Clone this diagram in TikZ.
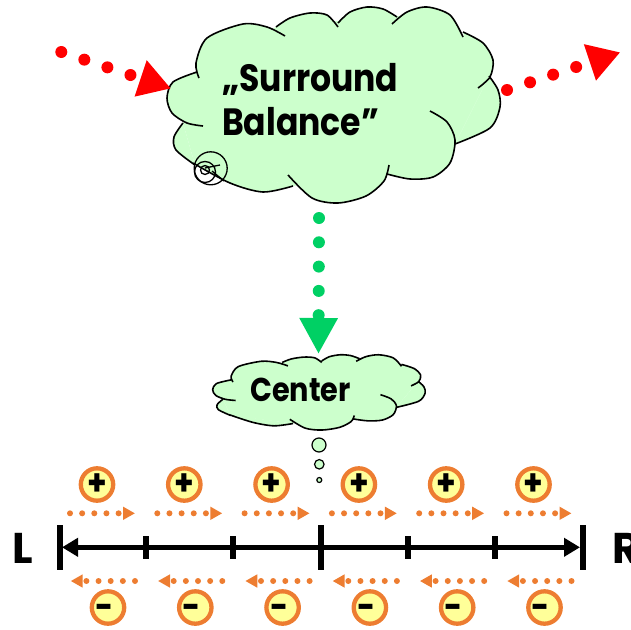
\documentclass[tikz,border=0pt]{standalone}
\usepackage{fontspec}
\setmainfont[FakeStretch=0.87]{Poppins}
\newfontfamily\axisfont{Poppins}
\usetikzlibrary{arrows.meta}
\definecolor{CloudGreen}{RGB}{204, 255, 204}
\definecolor{SignYellow}{RGB}{255, 255, 153}
\definecolor{SignOrange}{RGB}{237, 125, 49}
\definecolor{DropGreen}{RGB}{0, 208, 100}
\tikzset{
  cloudline/.style={draw=black, fill=CloudGreen, line width=1.6pt},
  reddots/.style={red, line width=12pt, line cap=round, dash pattern=on 0pt off 24.3pt,
    -{Triangle[length=32pt, width=36pt]}},
  greendots/.style={DropGreen, line width=12pt, line cap=round, dash pattern=on 0pt off 24.3pt,
    -{Triangle[length=36pt, width=36pt]}},
  orangedots/.style={SignOrange, line width=6pt, line cap=round, dash pattern=on 0pt off 12.15pt,
    -{Triangle[length=12pt, width=12.5pt]}},
  signdisc/.style={circle, draw=SignOrange, fill=SignYellow, line width=4.3pt, minimum size=32.4pt,
    outer sep=0pt, inner sep=0pt, text=black, font=\bfseries\fontsize{36}{36}\selectfont},
  longtick/.style={line width=6pt},
  shorttick/.style={line width=6pt},
  cloudshape/.pic={
    \fill[CloudGreen] (33,65) -- (110,22) -- (172,16) -- (200,8) -- (226,12) -- (240,10) -- (297,30) -- (323,71)
      -- (289,139) -- (222,165) -- (127,181) -- (29,160) -- (17,118) -- cycle;
    \path[cloudline]
      plot[smooth] coordinates {(33,73) (30,58) (41,33) (77,19) (101,22) (119,31)}
      plot[smooth] coordinates {(110,22) (124,13) (144,8) (161,10) (172,22)}
      plot[smooth] coordinates {(172,18) (184,7) (201,2) (217,4) (231,12)}
      plot[smooth] coordinates {(226,19) (241,7) (261,2) (284,10) (297,32)}
      plot[smooth] coordinates {(297,27) (317,38) (327,55) (324,72) (312,83)}
      plot[smooth] coordinates {(323,71) (332,85) (334,102) (324,123) (289,139)}
      plot[smooth] coordinates {(264,106) (281,117) (289,135) (284,158) (267,172) (244,174) (221,169)}
      plot[smooth] coordinates {(223,160) (218,176) (200,191) (172,198) (146,193) (122,170)}
      plot[smooth] coordinates {(127,181) (97,187) (64,178) (27,158)}
      plot[smooth] coordinates {(29,160) (10,145) (8,132) (17,118)}
      plot[smooth] coordinates {(37,121) (21,118) (6,108) (1,93) (7,77) (31,67)};
  }
}

\begin{document}
\begin{tikzpicture}[x=1pt, y=-1pt]
\useasboundingbox (0,0) rectangle (631,629);

% Clouds
\pic at (166,5) {cloudshape};
\pic[xscale=0.638, yscale=0.384] at (212,354) {cloudshape};

% Scribble on the big cloud
\draw[line width=1.3pt] (210.7,168.3) circle (16.5);
\draw[line width=1.3pt] (205,172) circle (10.5);
\draw[line width=1.3pt] (205,170) circle (4.5);
\draw[line width=1.3pt] (205,168) -- (220,165);
\draw[line width=1.3pt] (212,171) -- (224,181);

% Cloud texts
\node[anchor=base west, inner sep=0pt, align=left, font=\bfseries\fontsize{38}{44}\selectfont] (surround) at (222,135) {„Surround\\Balance”};
\node[anchor=base west, inner sep=0pt, font=\bfseries\fontsize{33}{33}\selectfont] (center) at (250,401.5) {Center};

% Thought bubbles
\node[circle, cloudline, line width=1.2pt, minimum size=14pt, inner sep=0pt] (bubbleA) at (319,445) {};
\node[circle, cloudline, line width=1.2pt, minimum size=9.5pt, inner sep=0pt] (bubbleB) at (319.3,464.3) {};
\node[circle, cloudline, line width=1.2pt, minimum size=5pt, inner sep=0pt] (bubbleC) at (319.3,480) {};

% Dotted arrows
\coordinate (redStartA) at (61.3,52);
\coordinate (redEndA) at (171,88.5);
\coordinate (redStartB) at (507,90);
\coordinate (redEndB) at (620.3,52.3);
\coordinate (greenStart) at (319,218);
\coordinate (greenEnd) at (318.5,354);
\draw[reddots] (redStartA) -- (redEndA);
\draw[reddots] (redStartB) -- (redEndB);
\draw[greendots] (greenStart) -- (greenEnd);

% Plus and minus groups
\foreach \i in {0,...,5} {
    \node[signdisc] (plus\i) at (97+87.3*\i,484.5) {+};
    \node[signdisc] (minus\i) at (108+87.3*\i,607.5) {\smash{\raisebox{-12pt}{\hspace{-7pt}-}}};
    \coordinate (pushA\i) at (70+87.3*\i,513.3);
    \coordinate (pushB\i) at (135+87.3*\i,513.3);
    \coordinate (pullA\i) at (135+87.3*\i,581);
    \coordinate (pullB\i) at (70.7+87.3*\i,581);
    \draw[orangedots] (pushA\i) -- (pushB\i);
    \draw[orangedots] (pullA\i) -- (pullB\i);
}

% Axis
\coordinate (axisL) at (62,547.3);
\coordinate (axisR) at (580,547.3);
\draw[line width=5pt, {Triangle[length=16pt, width=18pt]}-{Triangle[length=16pt, width=18pt]}] (axisL) -- (axisR);
\foreach \i/\x in {0/59.7,3/320.7,6/582.5} {
    \coordinate (topTick\i) at (\x,525);
    \coordinate (botTick\i) at (\x,569.5);
    \draw[longtick] (topTick\i) -- (botTick\i);
}
\foreach \i/\x in {1/146,2/233.3,4/408,5/495} {
    \coordinate (topTick\i) at (\x,536);
    \coordinate (botTick\i) at (\x,558.5);
    \draw[shorttick] (topTick\i) -- (botTick\i);
}

% End letters
\node[anchor=base west, inner sep=0pt, font=\axisfont\bfseries\fontsize{43}{43}\selectfont] (leftEnd) at (12,563.5) {L};
\node[anchor=base west, inner sep=0pt, font=\axisfont\bfseries\fontsize{43}{43}\selectfont] (rightEnd) at (612,563.5) {R};

\end{tikzpicture}
\end{document}
